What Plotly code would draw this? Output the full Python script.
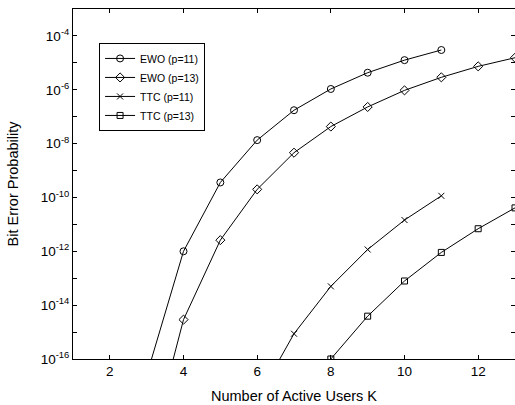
import plotly.graph_objects as go

# Data
k_ewo11 = [3, 4, 5, 6, 7, 8, 9, 10, 11]
ber_ewo11 = [2.5e-17, 1.0e-12, 3.6e-10, 1.35e-8, 1.74e-7, 1.07e-6, 4.3e-6, 1.26e-5, 3.0e-5]

k_ewo13 = [3, 4, 5, 6, 7, 8, 9, 10, 11, 12, 13]
ber_ewo13 = [1.6e-20, 2.9e-15, 2.6e-12, 2.0e-10, 4.6e-9, 4.3e-8, 2.3e-7, 9.5e-7, 2.9e-6, 7.4e-6, 1.55e-5]

k_ttc11 = [6, 7, 8, 9, 10, 11]
ber_ttc11 = [3.2e-18, 8.7e-16, 5.0e-14, 1.17e-12, 1.45e-11, 1.15e-10]

k_ttc13 = [8, 9, 10, 11, 12, 13]
ber_ttc13 = [1.0e-16, 3.9e-15, 7.9e-14, 9.1e-13, 6.9e-12, 4.1e-11]

names = ["EWO (p=11)", "EWO (p=13)", "TTC (p=11)", "TTC (p=13)"]
symbols = ["circle-open", "diamond-open", "x-thin-open", "square-open"]
sizes = [7, 7, 6, 6]

x_ticks = [2, 4, 6, 8, 10, 12]
y_major_exps = [-16, -14, -12, -10, -8, -6, -4]
y_minor_exps = [-15, -13, -11, -9, -7, -5, -3]
ytick_vals = [10.0 ** e for e in y_major_exps]
ytick_text = ["10<sup>%d</sup>" % e for e in y_major_exps]
yminor_vals = [10.0 ** e for e in y_minor_exps]

fig = go.Figure()
for xs, ys, nm, sym, sz in zip([k_ewo11, k_ewo13, k_ttc11, k_ttc13],
                               [ber_ewo11, ber_ewo13, ber_ttc11, ber_ttc13],
                               names, symbols, sizes):
    fig.add_trace(go.Scatter(
        x=xs, y=ys, name=nm, mode="lines+markers",
        line=dict(color="black", width=1),
        marker=dict(symbol=sym, size=sz, color="black",
                    line=dict(color="black", width=1)),
    ))

axis_common = dict(showline=True, linecolor="black", linewidth=1, mirror="ticks",
                   ticks="inside", ticklen=4, tickcolor="black", showgrid=False,
                   zeroline=False, automargin=False,
                   tickfont=dict(size=13.5, color="black"))

fig.update_layout(
    width=515, height=405,
    margin=dict(l=73, r=0, t=9, b=46),
    paper_bgcolor="white", plot_bgcolor="white",
    font=dict(family="Liberation Sans, Arial, sans-serif", color="black", size=12),
    xaxis=dict(range=[1, 13], tickvals=x_ticks,
               title=dict(text="Number of Active Users K", font=dict(size=14.5), standoff=12),
               **axis_common),
    yaxis=dict(type="log", range=[-16, -3], tickvals=ytick_vals, ticktext=ytick_text,
               minor=dict(tickvals=yminor_vals, ticks="inside", ticklen=4,
                          tickcolor="black", showgrid=False),
               title=dict(text="Bit Error Probability", font=dict(size=14.5), standoff=18),
               **axis_common),
    legend=dict(x=0.059, y=0.903, xanchor="left", yanchor="top",
                bgcolor="white", bordercolor="black", borderwidth=1,
                font=dict(size=10.5), tracegroupgap=0, itemwidth=30),
    showlegend=True,
)

fig.write_html("out.html", config={"displayModeBar": False},
               post_script="document.body.style.margin='0';document.body.style.overflow='hidden';")
